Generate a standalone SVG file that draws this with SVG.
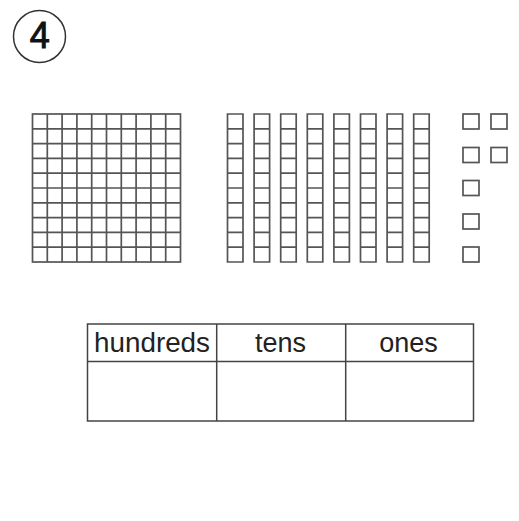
<svg xmlns="http://www.w3.org/2000/svg" width="519" height="521" viewBox="0 0 519 521">
<style>
.g{fill:none;stroke:#555;stroke-width:1.7}
.t{fill:none;stroke:#444;stroke-width:1.5}
.lbl{font-family:"Liberation Sans",Arial,sans-serif;font-size:27px;fill:#222;text-anchor:middle}
</style>
<rect width="519" height="521" fill="#fff"/>
<g id="number">
<circle cx="39.5" cy="36.5" r="26" fill="none" stroke="#333" stroke-width="1.5"/>
<text x="39.7" y="48" font-family="Liberation Sans,Arial,sans-serif" font-size="36" fill="#111" stroke="#111" stroke-width="1" text-anchor="middle">4</text>
</g>
<g id="hundreds-block">
<rect class="g" x="32.5" y="114" width="148" height="148"/>
<path class="g" d="M47.3 114V262M62.1 114V262M76.9 114V262M91.7 114V262M106.5 114V262M121.3 114V262M136.1 114V262M150.9 114V262M165.7 114V262M32.5 128.8H180.5M32.5 143.6H180.5M32.5 158.4H180.5M32.5 173.2H180.5M32.5 188H180.5M32.5 202.8H180.5M32.5 217.6H180.5M32.5 232.4H180.5M32.5 247.2H180.5"/>
</g>
<g id="tens-rods">
<path id="rodpath" class="g" d="M0 0H15.5V148H0Z M0 14.8H15.5M0 29.6H15.5M0 44.4H15.5M0 59.2H15.5M0 74H15.5M0 88.8H15.5M0 103.6H15.5M0 118.4H15.5M0 133.2H15.5" transform="translate(227.5 114)"/>
<use href="#rodpath" x="26.6"/>
<use href="#rodpath" x="53.2"/>
<use href="#rodpath" x="79.8"/>
<use href="#rodpath" x="106.4"/>
<use href="#rodpath" x="133"/>
<use href="#rodpath" x="159.6"/>
<use href="#rodpath" x="186.2"/>
</g>
<g id="ones-cubes">
<rect class="g" x="463" y="114" width="16" height="15"/>
<rect class="g" x="491" y="114" width="16" height="15"/>
<rect class="g" x="463" y="147.5" width="16" height="15"/>
<rect class="g" x="491" y="147.5" width="16" height="15"/>
<rect class="g" x="463" y="180.5" width="16" height="15"/>
<rect class="g" x="463" y="214" width="16" height="15"/>
<rect class="g" x="463" y="247" width="16" height="15"/>
</g>
<g id="place-value-table">
<rect class="t" x="87.5" y="324" width="386" height="97"/>
<path class="t" d="M87.5 361.5H473.5M216.7 324V421M345.7 324V421"/>
<text class="lbl" x="152" y="352" textLength="116" lengthAdjust="spacingAndGlyphs">hundreds</text>
<text class="lbl" x="280.5" y="352">tens</text>
<text class="lbl" x="408.5" y="352">ones</text>
</g>
</svg>
